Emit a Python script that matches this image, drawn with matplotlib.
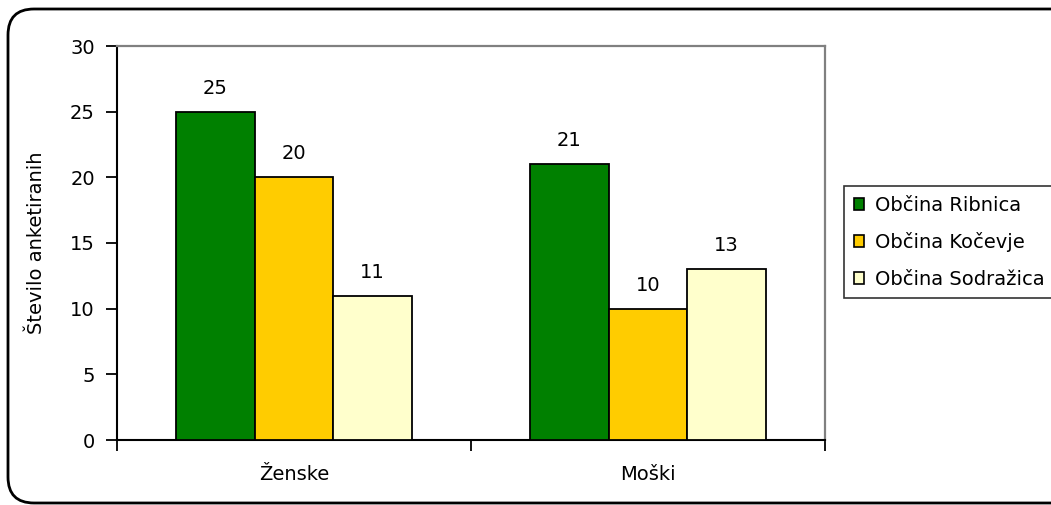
import matplotlib
matplotlib.use("Agg")
import matplotlib.pyplot as plt
from matplotlib.patches import FancyBboxPatch, Patch
import numpy as np

categories = ["Ženske", "Moški"]
series_names = ["Občina Ribnica", "Občina Kočevje", "Občina Sodražica"]
ribnica = [25, 21]
kocevje = [20, 10]
sodrazica = [11, 13]
series_values = [ribnica, kocevje, sodrazica]
colors = ["#008000", "#FFCC00", "#FFFFCC"]
yticks = [0, 5, 10, 15, 20, 25, 30]
ylabel = "Število anketiranih"

plt.rcParams['font.family'] = ['DejaVu Sans']
FS = 14

W, H = 1051, 505
fig = plt.figure(figsize=(W / 100, H / 100), dpi=100)
fig.patch.set_facecolor("white")

# background axes in pixel coordinates for the rounded border
bg = fig.add_axes([0, 0, 1, 1], zorder=-1)
bg.set_xlim(0, W)
bg.set_ylim(H, 0)
bg.axis("off")
bg.add_patch(FancyBboxPatch((8, 9), 1070, 494,
                            boxstyle="round,pad=0,rounding_size=26",
                            facecolor="white", edgecolor="black", lw=2))

x0, x1, ytop, ybot = 117, 825, 46, 440
ax = fig.add_axes([x0 / W, (H - ybot) / H, (x1 - x0) / W, (ybot - ytop) / H])
ax.set_facecolor("none")

x = np.arange(len(categories)) + 0.5
bw = 0.2222
for i, (name, vals, c) in enumerate(zip(series_names, series_values, colors)):
    pos = x + (i - 1) * bw
    ax.bar(pos, vals, width=bw, color=c, edgecolor="black", lw=1.3,
           label=name, zorder=3)
    for p, v in zip(pos, vals):
        ax.annotate(str(v), (p, v), xytext=(0, 14), textcoords="offset pixels",
                    ha="center", va="bottom", fontsize=FS)

ax.set_xlim(0, 2)
ax.set_ylim(0, 30)
ax.set_yticks(yticks)
ax.set_yticklabels([str(t) for t in yticks], fontsize=FS)
ax.set_xticks([0, 1, 2])
ax.set_xticklabels([])
ax.set_xticks(x, minor=True)
ax.set_xticklabels(categories, minor=True, fontsize=FS)
ax.tick_params(axis="x", which="minor", length=0, pad=18)
ax.tick_params(axis="x", which="major", length=8, width=1.3, direction="out", color="black")
ax.tick_params(axis="y", length=8, width=1.3, direction="out", pad=8)

for s in ["top", "right"]:
    ax.spines[s].set_color("#808080")
    ax.spines[s].set_linewidth(1.6)
for s in ["left", "bottom"]:
    ax.spines[s].set_color("black")
    ax.spines[s].set_linewidth(1.5)

fig.text(37 / W, 1 - 243 / H, ylabel, rotation=90, ha="center", va="center", fontsize=FS)

handles = [Patch(facecolor=c, edgecolor="black", lw=1.2) for c in colors]
leg = fig.legend(handles, series_names, loc="upper left",
                 bbox_to_anchor=(844 / W, 1 - 186 / H), fontsize=FS,
                 frameon=True, fancybox=False, edgecolor="black",
                 handlelength=0.55, handleheight=0.55, handletextpad=0.55,
                 borderpad=0.5, labelspacing=0.9, borderaxespad=0)
leg.get_frame().set_linewidth(1.2)

fig.savefig("out.png", dpi=100, facecolor="white")
